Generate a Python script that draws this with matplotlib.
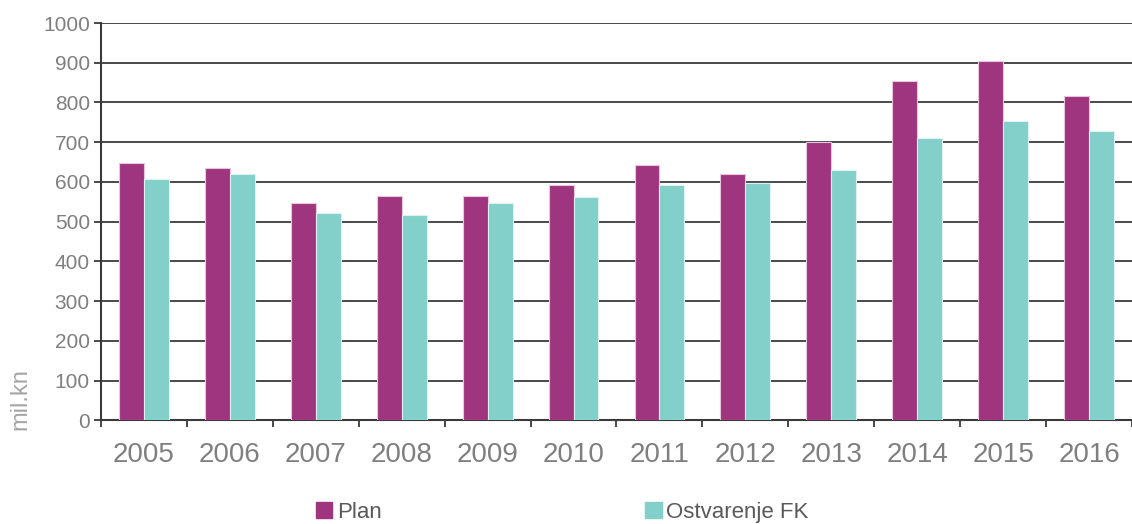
import numpy as np
import matplotlib.pyplot as plt
from matplotlib.patches import Patch

plt.rcParams['font.family'] = ['Liberation Sans', 'DejaVu Sans']

# data (mil. kn)
years = ['2005', '2006', '2007', '2008', '2009', '2010',
         '2011', '2012', '2013', '2014', '2015', '2016']
plan = [648, 635, 548, 565, 565, 592, 643, 620, 700, 853, 904, 816]
ostvarenje = [608, 620, 522, 518, 548, 563, 592, 598, 630, 710, 753, 728]

plan_color = '#9E357E'
ostv_color = '#83D0CA'
text_gray = '#7F7F7F'

fig = plt.figure(figsize=(11.32, 5.24), dpi=100)
ax = fig.add_axes([0.0892, 0.198, 0.9108, 0.758])

x = np.arange(len(years))
w = 0.29
ax.bar(x - w / 2, plan, w, color=plan_color, edgecolor='#E8C6DD', linewidth=0.8, zorder=3)
ax.bar(x + w / 2, ostvarenje, w, color=ostv_color, edgecolor='#DDF2F0', linewidth=0.8, zorder=3)

ax.set_xlim(-0.5, len(years) - 0.5)
ax.set_ylim(0, 1000)
ax.set_yticks(np.arange(0, 1001, 100))
ax.yaxis.grid(True, color='#3A3A3A', linewidth=1.3, zorder=0)

# category labels centered, ticks at boundaries
ax.set_xticks(x)
ax.set_xticklabels(years, fontsize=20, color=text_gray)
ax.set_xticks(np.arange(len(years) + 1) - 0.5, minor=True)
ax.tick_params(axis='x', which='major', length=0, pad=16)
ax.tick_params(axis='x', which='minor', length=5, width=1.3, color='#3A3A3A')
ax.tick_params(axis='y', labelsize=15, labelcolor=text_gray, length=5, width=1.3,
               color='#3A3A3A', pad=3)

for s in ['top', 'right']:
    ax.spines[s].set_visible(False)
for s in ['left', 'bottom']:
    ax.spines[s].set_color('#3A3A3A')
    ax.spines[s].set_linewidth(1.5)

fig.text(0.0177, 0.179, 'mil.kn', rotation=90, fontsize=17, color='#A5A5A5',
         ha='center', va='bottom')

# two legend entries placed separately, as in the reference
entries = [(Patch(color=plan_color, label='Plan'), 0.279),
           (Patch(color=ostv_color, label='Ostvarenje FK'), 0.570)]
for handle, xpos in entries:
    leg = fig.legend(handles=[handle], loc='lower left', bbox_to_anchor=(xpos, 0.002),
                     frameon=False, fontsize=16, borderpad=0, borderaxespad=0,
                     handlelength=0.75, handleheight=0.75, handletextpad=0.2)
    for t in leg.get_texts():
        t.set_color('#595959')

plt.savefig('out.png', dpi=100)
